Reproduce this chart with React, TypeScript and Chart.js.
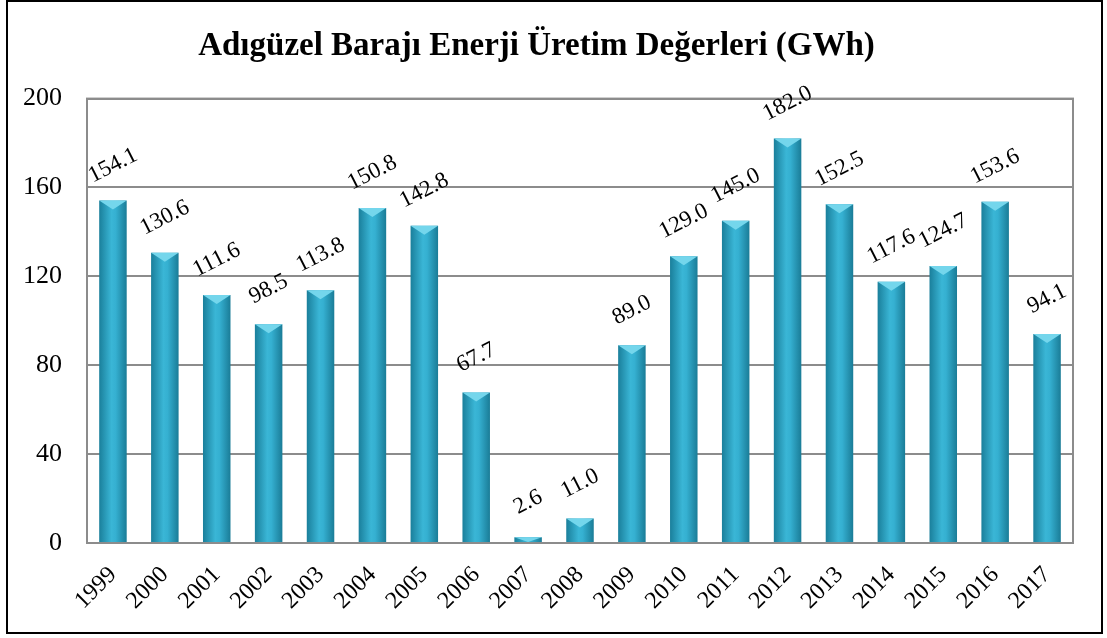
import React, { useEffect, useRef } from "react";
import { Chart, registerables } from "chart.js";

Chart.register(...registerables);

const years = ["1999","2000","2001","2002","2003","2004","2005","2006","2007","2008","2009","2010","2011","2012","2013","2014","2015","2016","2017"];
const energy = [154.1,130.6,111.6,98.5,113.8,150.8,142.8,67.7,2.6,11.0,89.0,129.0,145.0,182.0,152.5,117.6,124.7,153.6,94.1];
const yTicks = [0, 40, 80, 120, 160, 200];
const titleText = "Adıgüzel Barajı Enerji Üretim Değerleri (GWh)";

const SERIF = "'Liberation Serif', 'Times New Roman', serif";
const BAR_PCT = 0.53;

const decorPlugin = {
  id: "decor",
  afterDatasetsDraw(chart: any) {
    const { ctx, chartArea } = chart;
    const meta = chart.getDatasetMeta(0);
    ctx.save();
    // bevel caps
    meta.data.forEach((bar: any) => {
      const { x, y, width, base } = bar.getProps(["x", "y", "width", "base"], true);
      const h = Math.min(9, (base - y));
      const l = x - width / 2, r = x + width / 2;
      ctx.fillStyle = "#74d6ec";
      ctx.beginPath();
      ctx.moveTo(l, y);
      ctx.lineTo(r, y);
      ctx.lineTo(x, y + h);
      ctx.closePath();
      ctx.fill();
    });
    // plot frame
    ctx.strokeStyle = "#8c8c8c";
    ctx.lineWidth = 2;
    ctx.strokeRect(chartArea.left, chartArea.top, chartArea.right - chartArea.left, chartArea.bottom - chartArea.top);
    // data labels
    ctx.fillStyle = "#000";
    ctx.font = `23px ${SERIF}`;
    ctx.textAlign = "center";
    ctx.textBaseline = "middle";
    meta.data.forEach((bar: any, i: number) => {
      const { x, y } = bar.getProps(["x", "y"], true);
      ctx.save();
      ctx.translate(x, y - 35);
      ctx.rotate(-27 * Math.PI / 180);
      ctx.fillText(energy[i].toFixed(1), 0, 0);
      ctx.restore();
    });
    ctx.restore();
  },
};

export default function App() {
  const ref = useRef<HTMLCanvasElement>(null);
  useEffect(() => {
    document.body.style.margin = "0";
    const chart = new Chart(ref.current!, {
      type: "bar",
      data: {
        labels: years,
        datasets: [{
          data: energy,
          categoryPercentage: 1,
          barPercentage: BAR_PCT,
          backgroundColor: (c: any) => {
            const chart = c.chart;
            const xs = chart.scales?.x;
            if (!chart.chartArea || !xs || c.type !== "data") return "#2ea7c8";
            const cx = xs.getPixelForValue(c.dataIndex);
            const w = (xs.width / years.length) * BAR_PCT;
            const g = chart.ctx.createLinearGradient(cx - w / 2, 0, cx + w / 2, 0);
            g.addColorStop(0, "#1a7f9b");
            g.addColorStop(0.45, "#3ab6d6");
            g.addColorStop(0.6, "#35b0d1");
            g.addColorStop(1, "#1a7c97");
            return g;
          },
          borderWidth: 0,
        }],
      },
      options: {
        responsive: false,
        animation: false,
        layout: { padding: { left: 0, right: 34, top: 0, bottom: 0 } },
        plugins: {
          legend: { display: false },
          tooltip: { enabled: false },
          title: {
            display: true,
            text: titleText,
            color: "#000",
            font: { family: SERIF, size: 33, weight: "bold" },
            padding: { top: 27, bottom: 32 },
          },
        },
        scales: {
          x: {
            grid: { display: false, drawTicks: false },
            border: { display: true, color: "#8c8c8c", width: 2 },
            ticks: {
              color: "#000",
              font: { family: SERIF, size: 24 },
              maxRotation: 45,
              minRotation: 45,
              padding: 18,
              autoSkip: false,
            },
            afterFit: (s: any) => { s.height = 95; },
          },
          y: {
            min: 0,
            max: 200,
            afterBuildTicks: (s: any) => { s.ticks = yTicks.map((v) => ({ value: v })); },
            grid: { color: "#8c8c8c", lineWidth: 2, drawTicks: false },
            border: { display: true, color: "#8c8c8c", width: 2 },
            ticks: {
              color: "#000",
              font: { family: SERIF, size: 26 },
              padding: 25,
            },
            afterFit: (s: any) => { s.width = 87; },
          },
        },
      },
      plugins: [decorPlugin],
    } as any);
    return () => chart.destroy();
  }, []);
  return (
    <div style={{ position: "relative", width: 1107, height: 638, background: "#fff" }}>
      <canvas ref={ref} width={1107} height={638} style={{ display: "block" }} />
      <div style={{ position: "absolute", left: 6, top: 0, width: 1097, height: 634, border: "2px solid #000", boxSizing: "border-box", pointerEvents: "none" }} />
    </div>
  );
}
